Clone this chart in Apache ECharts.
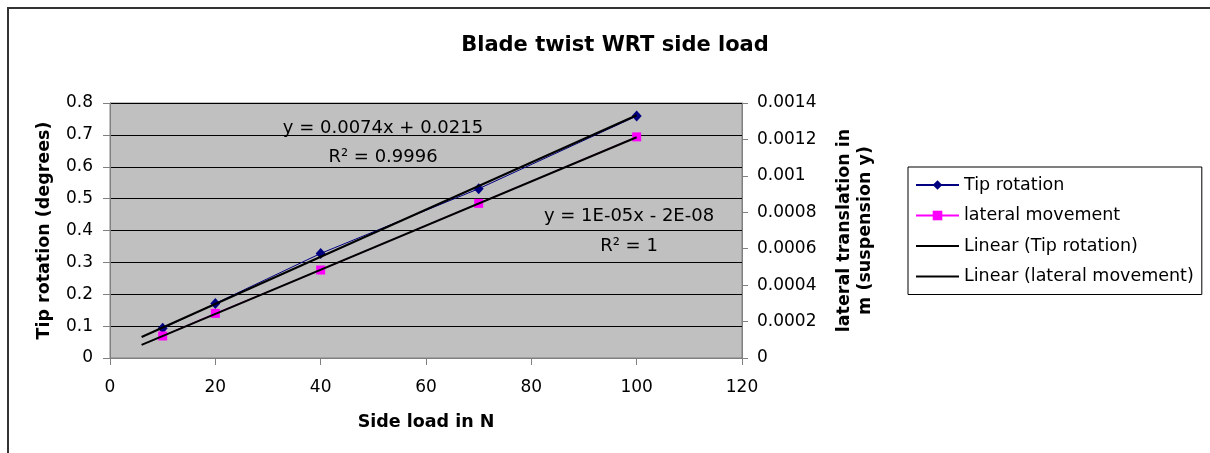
<!DOCTYPE html>
<html>
<head>
<meta charset="utf-8">
<title>Blade twist WRT side load</title>
<style>
    html, body { margin: 0; padding: 0; background: #fff; }
    #chart { width: 1210px; height: 453px; }
</style>
</head>
<body>
<div id="chart"></div>
<script type="text/javascript" src="https://cdn.jsdelivr.net/npm/echarts@6/dist/echarts.min.js"></script>
<script>
    // 数据
    var sideLoad = [10, 20, 40, 70, 100];
    var tipRotation = [0.093, 0.171, 0.328, 0.531, 0.759];
    var lateralMovement = [0.000121, 0.000245, 0.000483, 0.000849, 0.001214];
    // 趋势线端点
    var tipTrend = [[6, 0.066], [100, 0.7615]];
    var lateralTrend = [[6, 0.000072], [100, 0.001212]];
    var tipEquation = ['y = 0.0074x + 0.0215', 'R² = 0.9996'];
    var lateralEquation = ['y = 1E-05x - 2E-08', 'R² = 1'];

    var font = 'DejaVu Sans';

    function pairs(xs, ys) {
        return xs.map(function (x, i) { return [x, ys[i]]; });
    }

    drawChart('chart');
    function drawChart(id)
    {
        var myChart = echarts.init(document.getElementById(id));
        var option = {
            animation: false,
            textStyle: { fontFamily: font, color: '#000' },
            title: {
                text: 'Blade twist WRT side load',
                left: 610,
                top: 30,
                textAlign: 'center',
                textStyle: { fontFamily: font, fontSize: 21, fontWeight: 'bold', color: '#000' }
            },
            legend: {
                orient: 'vertical',
                left: 908,
                top: 167,
                padding: [8, 8, 8, 7],
                borderColor: '#000',
                borderWidth: 1,
                itemWidth: 43,
                itemHeight: 12,
                itemGap: 10.5,
                textStyle: { fontFamily: font, fontSize: 17.5, color: '#000', lineHeight: 20 },
                data: [
                    'Tip rotation',
                    'lateral movement',
                    { name: 'Linear (Tip rotation)', itemStyle: { opacity: 0 } },
                    { name: 'Linear (lateral movement)', itemStyle: { opacity: 0 } }
                ]
            },
            grid: {
                left: 110,
                right: 468,
                top: 103,
                bottom: 95,
                show: true,
                backgroundColor: '#C0C0C0',
                borderColor: '#808080',
                borderWidth: 1
            },
            xAxis: {
                type: 'value',
                min: 0,
                max: 120,
                interval: 20,
                name: 'Side load in N',
                nameLocation: 'middle',
                nameGap: 55,
                nameTextStyle: { fontFamily: font, fontSize: 17.5, fontWeight: 'bold', color: '#000' },
                axisLine: { lineStyle: { color: '#808080' } },
                axisTick: { length: 7, lineStyle: { color: '#808080' } },
                axisLabel: { margin: 21, fontSize: 17, color: '#000' },
                splitLine: { show: false }
            },
            yAxis: [{
                type: 'value',
                min: 0,
                max: 0.8,
                interval: 0.1,
                name: 'Tip rotation (degrees)',
                nameLocation: 'middle',
                nameGap: 57,
                nameTextStyle: { fontFamily: font, fontSize: 17.5, fontWeight: 'bold', color: '#000' },
                axisLine: { show: true, lineStyle: { color: '#808080' } },
                axisTick: { show: true, length: 7, lineStyle: { color: '#808080' } },
                axisLabel: {
                    margin: 17, fontSize: 17, color: '#000',
                    formatter: function (v) { return String(+v.toFixed(1)); }
                },
                splitLine: { show: true, lineStyle: { color: '#000', width: 1 } }
            }, {
                type: 'value',
                position: 'right',
                min: 0,
                max: 0.0014,
                interval: 0.0002,
                name: 'lateral translation in\nm (suspension y)',
                nameLocation: 'middle',
                nameGap: 92,
                nameRotate: 90,
                nameTextStyle: { fontFamily: font, fontSize: 17.5, fontWeight: 'bold', color: '#000', lineHeight: 21 },
                axisLine: { show: true, lineStyle: { color: '#808080' } },
                axisTick: { show: true, length: 6, lineStyle: { color: '#808080' } },
                axisLabel: {
                    margin: 15, fontSize: 17, color: '#000',
                    formatter: function (v) { return String(+v.toFixed(4)); }
                },
                splitLine: { show: false }
            }],
            series: [{
                name: 'Tip rotation',
                type: 'line',
                yAxisIndex: 0,
                data: pairs(sideLoad, tipRotation),
                symbol: 'diamond',
                symbolSize: [10, 11],
                lineStyle: { color: '#000080', width: 1 },
                itemStyle: { color: '#000080' },
                z: 2
            }, {
                name: 'lateral movement',
                type: 'line',
                yAxisIndex: 1,
                data: pairs(sideLoad, lateralMovement),
                symbol: 'rect',
                symbolSize: 9,
                lineStyle: { color: '#FF00FF', width: 1 },
                itemStyle: { color: '#FF00FF' },
                z: 2
            }, {
                name: 'Linear (Tip rotation)',
                type: 'line',
                yAxisIndex: 0,
                data: tipTrend,
                symbol: 'none',
                lineStyle: { color: '#000', width: 2 },
                itemStyle: { color: '#000' },
                z: 3
            }, {
                name: 'Linear (lateral movement)',
                type: 'line',
                yAxisIndex: 1,
                data: lateralTrend,
                symbol: 'none',
                lineStyle: { color: '#000', width: 2 },
                itemStyle: { color: '#000' },
                z: 3
            }],
            graphic: [{
                // 外框
                type: 'rect',
                shape: { x: 8, y: 8, width: 1300, height: 600 },
                style: { fill: 'none', stroke: '#333', lineWidth: 2 },
                z: -10
            }, {
                type: 'text',
                x: 383, y: 128,
                style: { text: tipEquation[0], textAlign: 'center', textVerticalAlign: 'middle', font: '18px ' + font, fill: '#000' },
                z: 10
            }, {
                type: 'text',
                x: 383, y: 157,
                style: { text: tipEquation[1], textAlign: 'center', textVerticalAlign: 'middle', font: '18px ' + font, fill: '#000' },
                z: 10
            }, {
                type: 'text',
                x: 629, y: 216,
                style: { text: lateralEquation[0], textAlign: 'center', textVerticalAlign: 'middle', font: '18px ' + font, fill: '#000' },
                z: 10
            }, {
                type: 'text',
                x: 629, y: 246,
                style: { text: lateralEquation[1], textAlign: 'center', textVerticalAlign: 'middle', font: '18px ' + font, fill: '#000' },
                z: 10
            }]
        };
        myChart.setOption(option);
    }
</script>
</body>
</html>
